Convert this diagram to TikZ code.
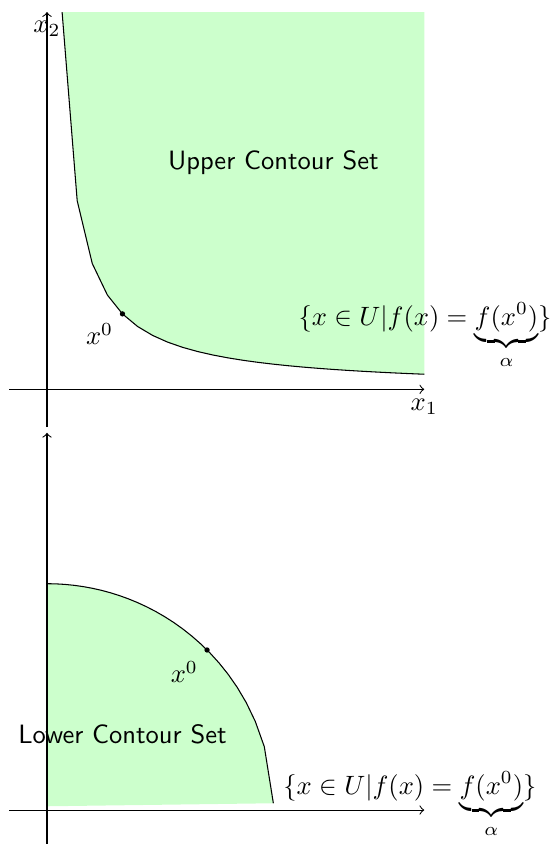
\documentclass[tikz,border=0pt]{standalone}
\usepackage{amsmath}
\tikzset{
  region/.style={fill=green!20},
  contour/.style={draw=black},
  axis/.style={->},
  dotpt/.style={circle,fill=black,inner sep=0pt,minimum size=2pt},
  setlabel/.style={sffamily},
}
\begin{document}
\begin{tikzpicture}
\useasboundingbox (-0.623,-6.026) rectangle (6.706,5.16);
% ---------- upper plot ----------
\fill[region] plot[domain=0.2:5,samples=25] (\x,{1/\x}) -- (5,5) -- (0.2,5) -- cycle;
\draw[contour] plot[domain=0.2:5,samples=25] (\x,{1/\x});
\coordinate (o1) at (0,0);
\coordinate (xe1) at (5,0);
\coordinate (xs1) at (-0.5,0);
\coordinate (ye1) at (0,5);
\coordinate (ys1) at (0,-0.5);
\draw[axis] (xs1) -- (xe1);
\draw[axis] (ys1) -- (ye1);
\node[below] (x1lab) at (xe1) {$x_1$};
\node[below] (x2lab) at (ye1) {$x_2$};
\node[dotpt] (p1) at (1,1) {};
\node[below left] (p1lab) at (1,1) {$x^0$};
\node[font=\sffamily] (ucs) at (3,3) {Upper Contour Set};
\node[anchor=base] (set1) at (5.01,0.85) {$\{x\in U|f(x)=\underbrace{f(x^0)}_{\alpha}\}$};
% ---------- lower plot ----------
\begin{scope}[yshift=-5.576cm]
\fill[region] (0,0.05) -- plot[domain=0:2.88,samples=25] (\x,{sqrt(9-\x*\x)}) -- (3,0.09) -- cycle;
\draw[contour] plot[domain=0:2.88,samples=25] (\x,{sqrt(9-\x*\x)}) -- (3,0.09);
\coordinate (xe2) at (5,0);
\coordinate (xs2) at (-0.5,0);
\coordinate (ye2) at (0,5);
\coordinate (ys2) at (0,-0.5);
\draw[axis] (xs2) -- (xe2);
\draw[axis] (ys2) -- (ye2);
\node[dotpt] (p2) at (2.1213,2.1213) {};
\node (p2lab) at (1.82,1.83) {$x^0$};
\node[font=\sffamily] (lcs) at (1,1) {Lower Contour Set};
\node[anchor=base] (set2) at (4.81,0.21) {$\{x\in U|f(x)=\underbrace{f(x^0)}_{\alpha}\}$};
\end{scope}
\end{tikzpicture}
\end{document}
